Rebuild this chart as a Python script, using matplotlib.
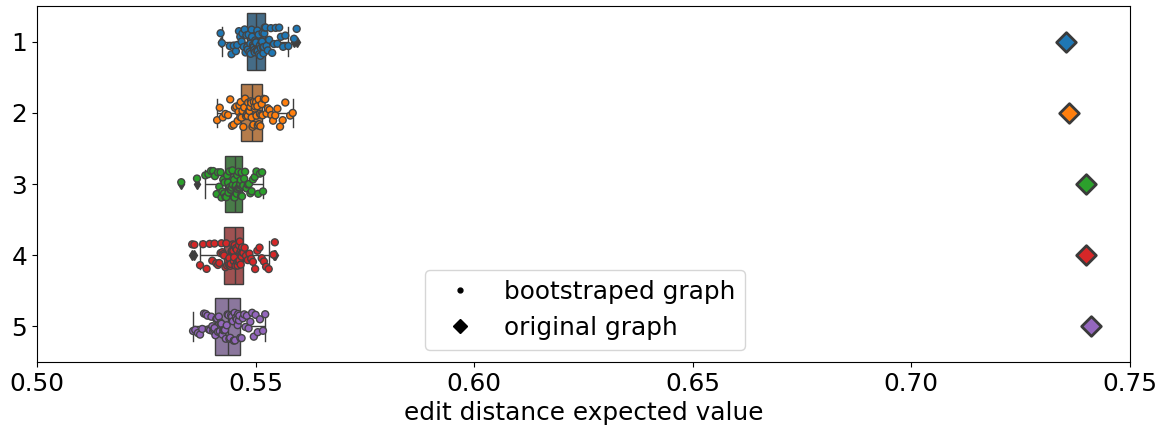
import numpy as np
import pandas as pd
import matplotlib
matplotlib.use("Agg")
import matplotlib.pyplot as plt
import matplotlib.colors as mcolors
from matplotlib.lines import Line2D
import seaborn as sns

# bootstrap estimates of the edit distance expected value, per graph
boot_1 = [0.5420, 0.5423,
          0.5441, 0.5445, 0.5450, 0.5455, 0.5458, 0.5462, 0.5465, 0.5468, 0.5470, 0.5473, 0.5475, 0.5477, 0.5479, 0.5481, 0.5482,
          0.5484, 0.5486, 0.5488, 0.5489, 0.5491, 0.5492, 0.5494, 0.5495, 0.5496, 0.5497, 0.5498, 0.5499, 0.5500, 0.5501, 0.5502,
          0.5504, 0.5505, 0.5507, 0.5508, 0.5510, 0.5511, 0.5512, 0.5514, 0.5515, 0.5516, 0.5517, 0.5518, 0.5519, 0.5520, 0.5521,
          0.5523, 0.5525, 0.5528, 0.5531, 0.5535, 0.5538, 0.5542, 0.5546, 0.5550, 0.5554, 0.5558, 0.5563, 0.5568, 0.5575,
          0.5588, 0.5594]
boot_2 = [0.5412, 0.5418, 0.5425, 0.5431, 0.5437, 0.5442, 0.5446, 0.5450, 0.5453, 0.5456, 0.5459, 0.5461, 0.5463, 0.5465, 0.5466,
          0.5468, 0.5470, 0.5472, 0.5474, 0.5476, 0.5478, 0.5480, 0.5482, 0.5483, 0.5485, 0.5486, 0.5488, 0.5489, 0.5490, 0.5491,
          0.5493, 0.5495, 0.5496, 0.5498, 0.5499, 0.5501, 0.5502, 0.5504, 0.5505, 0.5507, 0.5508, 0.5510, 0.5511, 0.5513, 0.5514,
          0.5516, 0.5519, 0.5522, 0.5525, 0.5528, 0.5532, 0.5536, 0.5540, 0.5545, 0.5550, 0.5556, 0.5562, 0.5568, 0.5579, 0.5585]
boot_3 = [0.5330, 0.5366,
          0.5385, 0.5392, 0.5398, 0.5403, 0.5407, 0.5411, 0.5414, 0.5417, 0.5420, 0.5422, 0.5424, 0.5426, 0.5428, 0.5429,
          0.5431, 0.5433, 0.5435, 0.5437, 0.5438, 0.5440, 0.5441, 0.5443, 0.5444, 0.5446, 0.5447, 0.5448, 0.5450, 0.5451, 0.5452,
          0.5454, 0.5455, 0.5457, 0.5458, 0.5459, 0.5461, 0.5462, 0.5463, 0.5464, 0.5465, 0.5466, 0.5467, 0.5468, 0.5469, 0.5470,
          0.5472, 0.5474, 0.5476, 0.5479, 0.5482, 0.5485, 0.5488, 0.5491, 0.5494, 0.5498, 0.5502, 0.5506, 0.5510, 0.5515, 0.5517]
boot_4 = [0.5355, 0.5360,
          0.5373, 0.5380, 0.5388, 0.5395, 0.5401, 0.5406, 0.5410, 0.5414, 0.5417, 0.5420, 0.5422, 0.5424, 0.5426, 0.5428,
          0.5431, 0.5433, 0.5435, 0.5437, 0.5439, 0.5440, 0.5442, 0.5443, 0.5445, 0.5446, 0.5448, 0.5449, 0.5450, 0.5451, 0.5452,
          0.5454, 0.5455, 0.5457, 0.5458, 0.5459, 0.5461, 0.5462, 0.5463, 0.5464, 0.5465, 0.5466, 0.5467, 0.5468, 0.5469, 0.5470,
          0.5472, 0.5475, 0.5478, 0.5482, 0.5486, 0.5490, 0.5494, 0.5499, 0.5504, 0.5509, 0.5514, 0.5519, 0.5524, 0.5530,
          0.5541, 0.5544]
boot_5 = [0.5357, 0.5362, 0.5368, 0.5373, 0.5378, 0.5382, 0.5386, 0.5390, 0.5393, 0.5396, 0.5399, 0.5401, 0.5403, 0.5405, 0.5406,
          0.5408, 0.5410, 0.5412, 0.5414, 0.5416, 0.5418, 0.5420, 0.5422, 0.5424, 0.5426, 0.5428, 0.5430, 0.5432, 0.5434, 0.5436,
          0.5438, 0.5440, 0.5442, 0.5444, 0.5446, 0.5448, 0.5450, 0.5452, 0.5453, 0.5455, 0.5457, 0.5459, 0.5460, 0.5462, 0.5463,
          0.5465, 0.5468, 0.5471, 0.5474, 0.5477, 0.5480, 0.5484, 0.5488, 0.5492, 0.5496, 0.5500, 0.5505, 0.5510, 0.5517, 0.5522]

graph_names = ["1", "2", "3", "4", "5"]
original_values = [0.7354, 0.7361, 0.7399, 0.7399, 0.7411]

boots = [boot_1, boot_2, boot_3, boot_4, boot_5]
boot_df = pd.DataFrame({
    "value": np.concatenate(boots),
    "graph": np.repeat(graph_names, [len(b) for b in boots]),
})
orig_df = pd.DataFrame({"value": original_values, "graph": graph_names})

palette = sns.color_palette("tab10", 5)
FS = 17.8

plt.rcParams["font.family"] = "DejaVu Sans"
fig, ax = plt.subplots(figsize=(11.63, 4.33), dpi=100)
fig.subplots_adjust(left=0.0318, right=0.9716, top=0.986, bottom=0.164)

sns.boxplot(data=boot_df, x="value", y="graph", hue="graph", order=graph_names,
            hue_order=graph_names, palette=palette, orient="h", width=0.8,
            saturation=0.5, legend=False, ax=ax,
            flierprops=dict(marker="d", markersize=5, markerfacecolor="#3f3f3f",
                            markeredgecolor="#3f3f3f"))
# boxes look a bit darker/greyer than seaborn's default
for p in ax.patches:
    fc = np.array(mcolors.to_rgba(p.get_facecolor()))
    fc[:3] = 0.88 * fc[:3] + 0.12 * 0.3
    p.set_facecolor(fc)

sns.stripplot(data=boot_df, x="value", y="graph", hue="graph", order=graph_names,
              hue_order=graph_names, palette=palette, orient="h", jitter=0.2,
              size=5, linewidth=1, edgecolor="#444444", legend=False, ax=ax)

sns.stripplot(data=orig_df, x="value", y="graph", hue="graph", order=graph_names,
              hue_order=graph_names, palette=palette, orient="h", jitter=False,
              marker="D", size=10, linewidth=2, edgecolor="#3a3a3a", legend=False, ax=ax)

ax.set_xlim(0.5, 0.75)
ax.set_ylim(4.5, -0.5)
ax.set_xticks([0.50, 0.55, 0.60, 0.65, 0.70, 0.75])
ax.set_xticklabels(["0.50", "0.55", "0.60", "0.65", "0.70", "0.75"])
ax.tick_params(labelsize=FS)
ax.set_xlabel("edit distance expected value", fontsize=FS)
ax.set_ylabel("")

handles = [Line2D([], [], marker=".", color="black", linestyle="none", markersize=7),
           Line2D([], [], marker="D", color="black", linestyle="none", markersize=7)]
ax.legend(handles, ["bootstraped graph", "original graph"], fontsize=FS,
          loc="lower left", bbox_to_anchor=(0.355, 0.034), borderaxespad=0)

plt.savefig("out.png", dpi=100)
